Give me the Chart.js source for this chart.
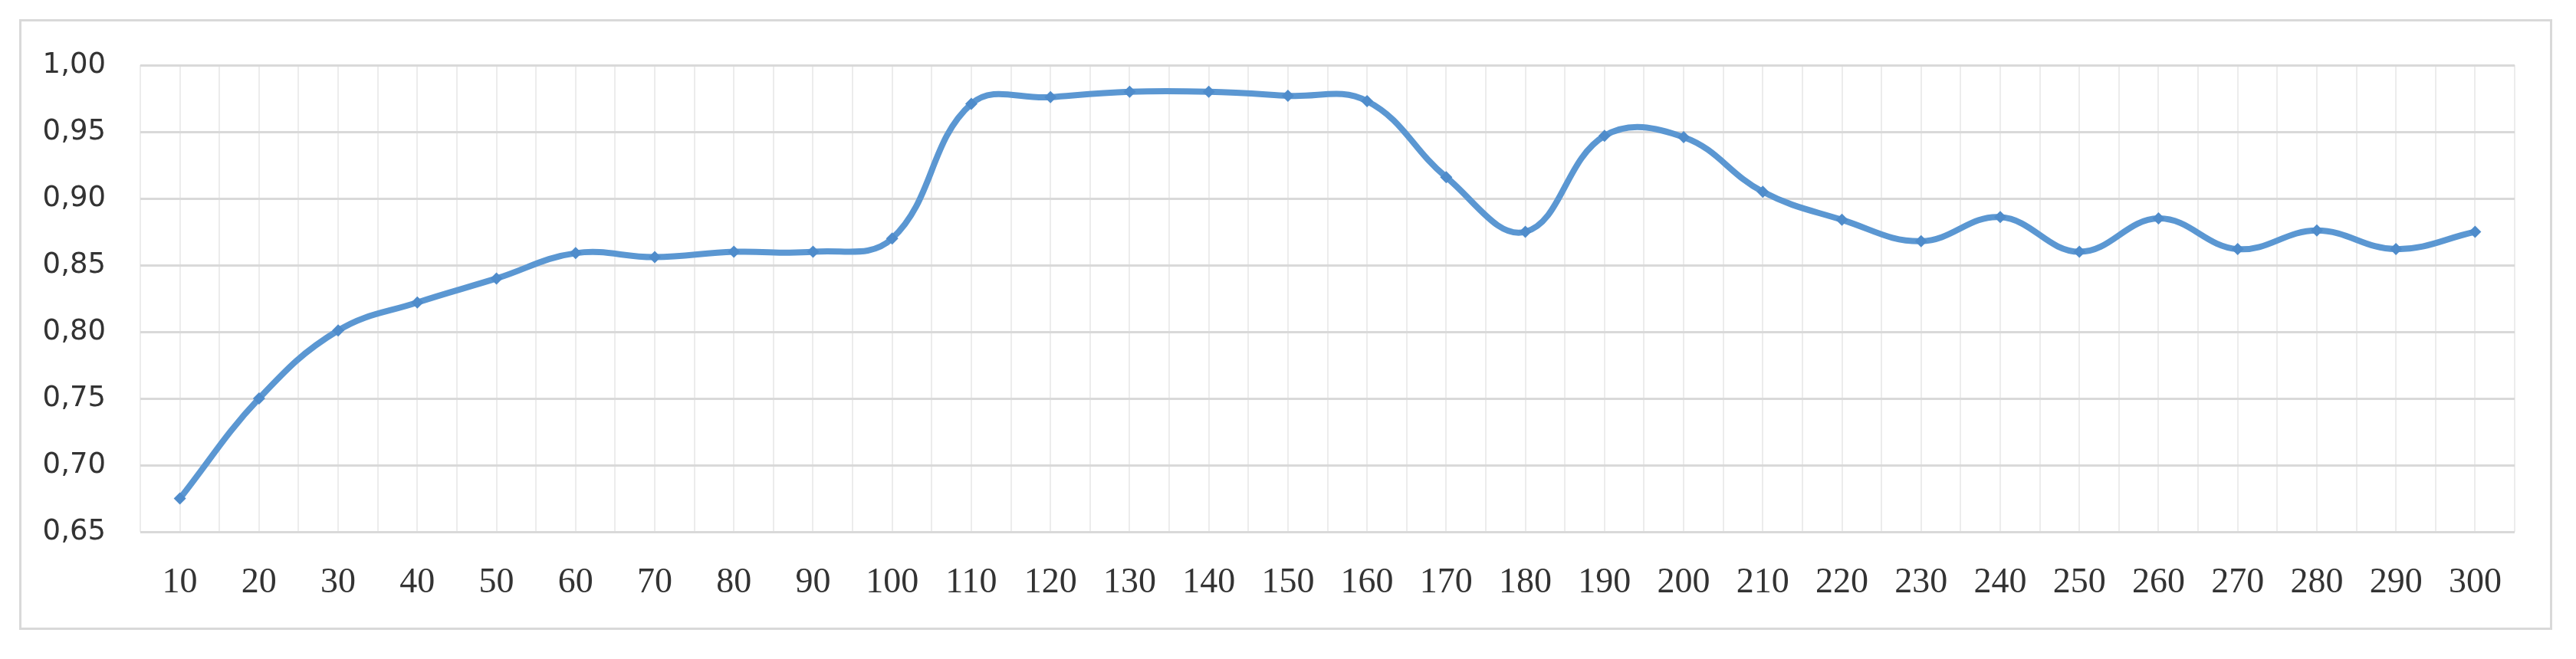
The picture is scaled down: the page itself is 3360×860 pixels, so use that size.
<!DOCTYPE html>
<html lang="sv">

<head>
  <meta charset="utf-8">
  <title>Linjediagram</title>
  <script src="https://cdn.jsdelivr.net/npm/chart.js@4.4.0/dist/chart.umd.min.js"></script>
  <style>
    body { margin: 0; background: #fff; }
    .wrap { position: absolute; left: 0; top: 0; width: 3360px; height: 860px; }
    .ram { position: absolute; left: 25px; top: 25px; width: 3304px; height: 797px;
           border: 3px solid #d9d9d9; box-sizing: border-box; }
  </style>
</head>

<body>
  <div class="ram"></div>
  <div class="wrap">
    <canvas id="myChart"></canvas>
  </div>

  <script>
    // kategorier (x) och värden (y)
    const categories = [10, 20, 30, 40, 50, 60, 70, 80, 90, 100,
      110, 120, 130, 140, 150, 160, 170, 180, 190, 200,
      210, 220, 230, 240, 250, 260, 270, 280, 290, 300];
    const values = [0.675, 0.750, 0.801, 0.822, 0.840, 0.859, 0.856, 0.860, 0.860, 0.870,
      0.971, 0.976, 0.980, 0.980, 0.977, 0.973, 0.916, 0.875, 0.947, 0.946,
      0.905, 0.884, 0.868, 0.886, 0.860, 0.885, 0.862, 0.876, 0.862, 0.875];
    const yTicks = [0.65, 0.70, 0.75, 0.80, 0.85, 0.90, 0.95, 1.00];

    const points = categories.map((c, i) => ({ x: c, y: values[i] }));

    const ctx = document.getElementById('myChart').getContext('2d');
    const myChart = new Chart(ctx, {
      type: 'line',
      data: {
        datasets: [{
          label: 'Serie 1',
          data: points,
          borderColor: '#5b97d2',
          backgroundColor: '#5b97d2',
          borderWidth: 8,
          tension: 0.4,
          pointStyle: 'rectRot',
          pointRadius: 8,
          pointBorderWidth: 0,
          pointBackgroundColor: '#4f8ccb'
        }]
      },
      options: {
        responsive: true,
        maintainAspectRatio: false,
        animation: false,
        layout: { padding: { left: 0, right: 80, top: 85, bottom: 0 } },
        plugins: { legend: { display: false }, tooltip: { enabled: false } },
        scales: {
          x: {
            type: 'linear',
            min: 5,
            max: 305,
            border: { display: false },
            grid: { color: '#ececec', lineWidth: 2, drawTicks: false },
            ticks: {
              stepSize: 5,
              autoSkip: false,
              maxRotation: 0,
              padding: 39,
              color: '#333333',
              font: { family: 'Liberation Serif', size: 46 },
              callback: v => (v % 10 === 0 && categories.includes(v)) ? String(v) : ''
            },
            afterFit: s => { s.height = 166; }
          },
          y: {
            min: yTicks[0],
            max: yTicks[yTicks.length - 1],
            border: { display: false },
            grid: { color: '#d9d9d9', lineWidth: 3, drawTicks: false },
            afterBuildTicks: s => { s.ticks = yTicks.map(v => ({ value: v })); },
            ticks: {
              padding: 45,
              color: '#333333',
              font: { family: 'DejaVu Sans', size: 37 },
              callback: v => v.toFixed(2).replace('.', ',')
            },
            afterFit: s => { s.width = 183; }
          }
        }
      }
    });
  </script>

</body>

</html>
